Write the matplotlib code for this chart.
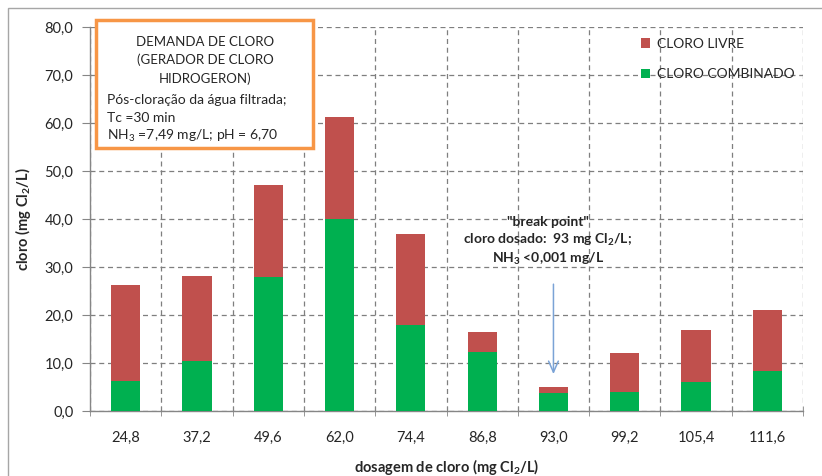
import numpy as np
import matplotlib
matplotlib.use('Agg')
from matplotlib import pyplot as plt
from matplotlib.patches import Rectangle

plt.rcParams['font.family'] = ['Lato', 'DejaVu Sans']
plt.rcParams['mathtext.fontset'] = 'custom'
plt.rcParams['mathtext.rm'] = 'Lato'
plt.rcParams['mathtext.bf'] = 'Lato:bold'

#~~ data
dosagem = ['24,8', '37,2', '49,6', '62,0', '74,4', '86,8', '93,0', '99,2', '105,4', '111,6']
cloro_total = [26.2, 28.1, 47.1, 61.2, 36.9, 16.5, 4.9, 12.1, 16.8, 21.0]
cloro_combinado = [6.3, 10.5, 28.0, 40.0, 17.9, 12.3, 3.8, 3.9, 6.0, 8.3]
cloro_livre = [t - c for t, c in zip(cloro_total, cloro_combinado)]
y_ticks = [0, 10, 20, 30, 40, 50, 60, 70, 80]

red = '#C0504D'
green = '#00B050'
axis_gray = '#868686'
txt = '#262626'

W, H = 822, 476
fig = plt.figure(figsize=(W / 100., H / 100.), dpi=100)
ax = fig.add_axes([90. / W, 1 - 411. / H, 713. / W, 384. / H])

x = np.arange(len(dosagem))
ax.bar(x, cloro_combinado, width=0.41, color=green, label='CLORO COMBINADO', zorder=3)
ax.bar(x, cloro_livre, width=0.41, bottom=cloro_combinado, color=red, label='CLORO LIVRE', zorder=3)

ax.set_xlim(-0.5, len(dosagem) - 0.5)
ax.set_ylim(0, 80)
ax.set_yticks(y_ticks)
ax.set_yticklabels([('%.1f' % v).replace('.', ',') for v in y_ticks])
ax.set_xticks(x)
ax.set_xticklabels(dosagem)
ax.set_xticks(np.arange(len(dosagem) + 1) - 0.5, minor=True)

ax.tick_params(axis='x', which='major', length=0, pad=14, labelsize=10.5, labelcolor=txt)
ax.tick_params(axis='x', which='minor', direction='inout', length=7, color=axis_gray)
ax.tick_params(axis='y', which='major', direction='out', length=6, color=axis_gray, pad=6,
               labelsize=10.5, labelcolor=txt)

#~~ dashed grid
ax.grid(True, axis='y', which='major', linestyle=(0, (4, 3)), color='#7f7f7f', linewidth=0.9, zorder=0)
ax.grid(True, axis='x', which='minor', linestyle=(0, (4, 3)), color='#7f7f7f', linewidth=0.9, zorder=0)
ax.grid(False, axis='x', which='major')

for s in ['top', 'right']:
    ax.spines[s].set_visible(False)
for s in ['left', 'bottom']:
    ax.spines[s].set_color(axis_gray)
    ax.spines[s].set_linewidth(1.0)

ax.set_xlabel('dosagem de cloro (mg Cl$_\\mathbf{2}$/L)', fontsize=10.5, fontweight='bold', color=txt, labelpad=9)
ax.set_ylabel('cloro (mg Cl$_\\mathbf{2}$/L)', fontsize=10.5, fontweight='bold', color=txt, labelpad=8)

#~~ legend
h, l = ax.get_legend_handles_labels()
ax.legend(h[::-1], l[::-1], loc='upper left', bbox_to_anchor=(628. / W, 1 - 25. / H),
          bbox_transform=fig.transFigure, frameon=False, fontsize=10, handlelength=0.7,
          handleheight=0.7, handletextpad=0.5, labelspacing=1.35, labelcolor=txt)

#~~ break point annotation
ax.annotate('', xy=(6, 7.1), xytext=(6, 27.0),
            arrowprops=dict(arrowstyle='->,head_length=0.8,head_width=0.35', color='#7BA3D6', lw=1.1))
ax.text(5.92, 40.6, '"break point"\ncloro dosado:  93 mg Cl$_\\mathbf{2}$/L;\nNH$_\\mathbf{3}$ <0,001 mg/L',
        ha='center', va='top', fontsize=10, fontweight='bold', color=txt, linespacing=1.25, zorder=5)

#~~ info box (figure coords)
fig.add_artist(Rectangle((96. / W, 1 - 148. / H), 217. / W, 128. / H, transform=fig.transFigure,
                         facecolor='white', edgecolor='#F79646', linewidth=2.5, zorder=10))
box_lines = [('DEMANDA DE CLORO', 42), ('(GERADOR DE CLORO', 60), ('HIDROGERON)', 79)]
for s, yy in box_lines:
    fig.text(205. / W, 1 - yy / H, s, ha='center', va='center', fontsize=9.5, color=txt, zorder=11)
box_lines2 = [('Pós-cloração da água filtrada;', 100), ('Tc =30 min', 118),
              ('NH$_3$ =7,49 mg/L; pH = 6,70', 136)]
for s, yy in box_lines2:
    fig.text(107. / W, 1 - yy / H, s, ha='left', va='center', fontsize=10, color=txt, zorder=11)

#~~ chart border
fig.add_artist(Rectangle((8. / W, -0.1), 1.2, 1.1 - 8. / H, transform=fig.transFigure,
                         facecolor='none', edgecolor='#a6a6a6', linewidth=1.0))

plt.savefig('out.png', dpi=100)
plt.close()
